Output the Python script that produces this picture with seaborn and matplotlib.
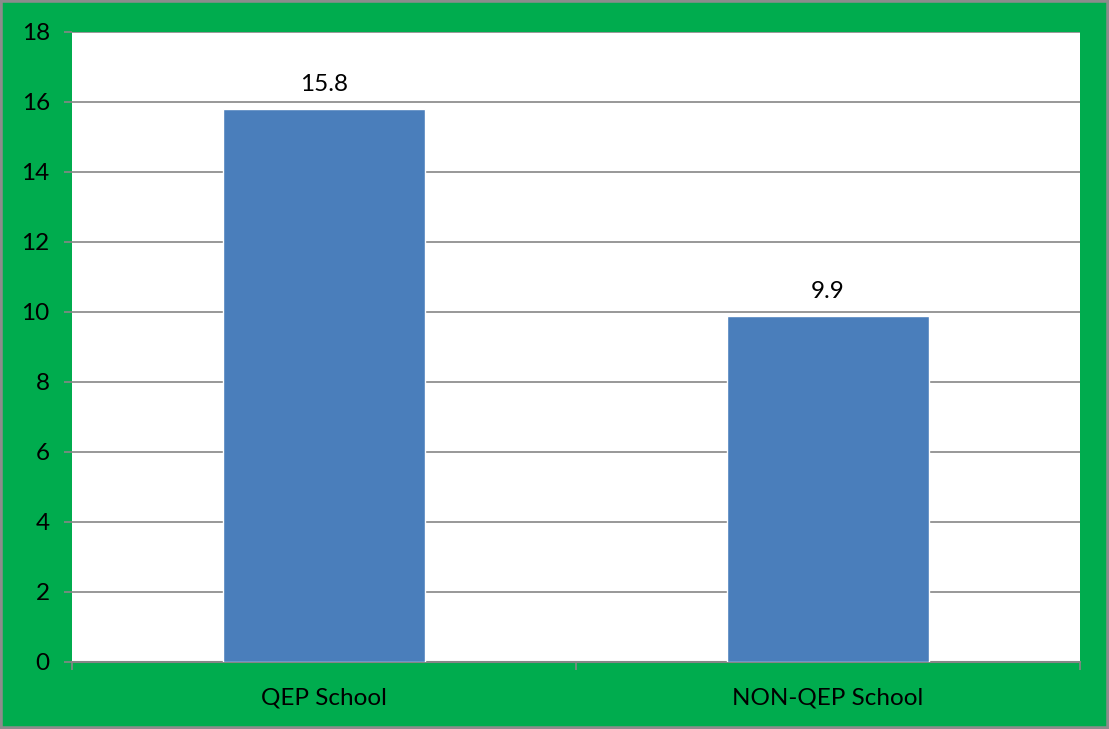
import matplotlib
matplotlib.use("Agg")
import matplotlib.pyplot as plt
import seaborn as sns
import pandas as pd
from matplotlib.patches import Rectangle

categories = ["QEP School", "NON-QEP School"]
values = [15.8, 9.9]
yticks = [0, 2, 4, 6, 8, 10, 12, 14, 16, 18]

GREEN = "#00AC4E"
BAR = "#4A7EBB"
GRID = "#868686"
FS = 17.5

sns.set_theme(style="white")
plt.rcParams["font.family"] = ["Lato", "DejaVu Sans"]

W, H = 1109, 729
fig = plt.figure(figsize=(W / 100, H / 100), dpi=100, facecolor=GREEN)
ax = fig.add_axes([72 / W, 1 - 662 / H, (1080 - 72) / W, (662 - 32) / H])
ax.set_facecolor("white")

df = pd.DataFrame({"cat": categories, "val": values})
sns.barplot(data=df, x="cat", y="val", color=BAR, width=0.4, saturation=1, ax=ax, zorder=3)

ax.set_ylim(0, 18)
ax.set_xlim(-0.5, 1.5)
ax.set_yticks(yticks)
ax.set_yticklabels([str(t) for t in yticks], fontsize=FS, color="black")
ax.yaxis.grid(True, color=GRID, linewidth=1.2, zorder=0)
ax.set_axisbelow(True)
ax.tick_params(axis="y", length=6, width=1.2, color=GRID, direction="out", pad=10, left=True)
ax.tick_params(axis="x", length=0, pad=18, labelsize=FS, labelcolor="black")
ax.set_xlabel("")
ax.set_ylabel("")

# category boundary ticks
ax.set_xticks([-0.5, 0.5, 1.5], minor=True)
ax.tick_params(axis="x", which="minor", length=6, width=1.2, color=GRID, direction="out", bottom=True)

for s in ["top", "right", "left"]:
    ax.spines[s].set_visible(False)
ax.spines["bottom"].set_color(GRID)
ax.spines["bottom"].set_linewidth(1.5)

for i, v in enumerate(values):
    ax.annotate(f"{v}", (i, v), xytext=(0, 10), textcoords="offset points",
                ha="center", va="bottom", fontsize=FS, color="black")

fig.patches.append(Rectangle((0, 0), 1, 1, transform=fig.transFigure, fill=False,
                             edgecolor="#8C8C8C", linewidth=4, zorder=10))

fig.savefig("out.png", dpi=100, facecolor=GREEN)
